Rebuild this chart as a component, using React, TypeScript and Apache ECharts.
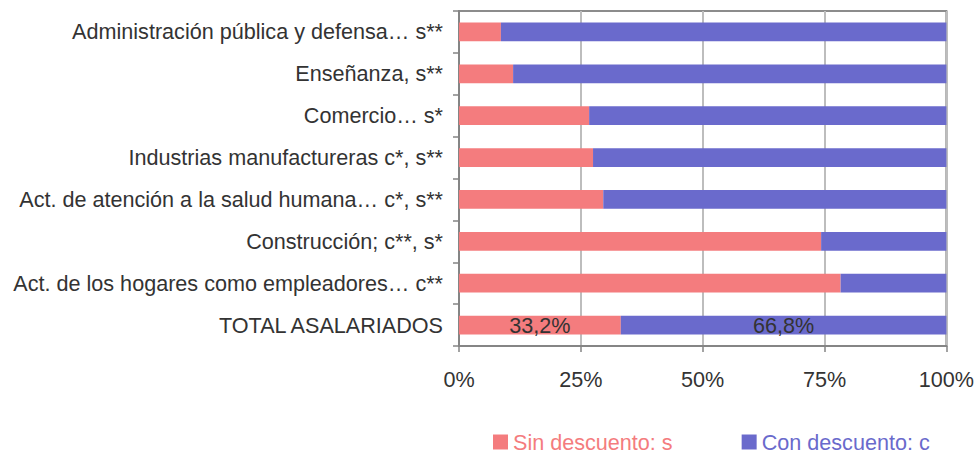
import React, { useEffect, useRef } from "react";
import * as echarts from "echarts";

const categories = [
  "Administración pública y defensa… s**",
  "Enseñanza, s**",
  "Comercio… s*",
  "Industrias manufactureras c*, s**",
  "Act. de atención a la salud humana… c*, s**",
  "Construcción; c**, s*",
  "Act. de los hogares como empleadores… c**",
  "TOTAL ASALARIADOS",
];
const sinDescuento = [8.6, 11.1, 26.7, 27.5, 29.6, 74.3, 78.3, 33.2];
const conDescuento = [91.4, 88.9, 73.3, 72.5, 70.4, 25.7, 21.7, 66.8];
const labelledIndex = 7;
const seriesNames = ["Sin descuento: s", "Con descuento: c"];
const colors = ["#F47C7E", "#6A6ACC"];

const FONT = "'Liberation Sans', Arial, sans-serif";
const FS = 21.6;

function toItems(values: number[]) {
  return values.map((v, i) => ({
    value: v,
    label: {
      show: i === labelledIndex,
      formatter: () => v.toFixed(1).replace(".", ",") + "%",
    },
  }));
}

export default function App() {
  const ref = useRef<HTMLDivElement>(null);
  useEffect(() => {
    document.body.style.margin = "0";
    const chart = echarts.init(ref.current!, undefined, { renderer: "svg" });
    chart.setOption({
      animation: false,
      textStyle: { fontFamily: FONT },
      grid: {
        left: 459,
        right: 29,
        top: 11,
        bottom: 108,
        show: true,
        borderColor: "#8C8C8C",
        borderWidth: 2,
      },
      legend: {
        left: 493,
        top: 431,
        padding: 0,
        itemWidth: 15,
        itemHeight: 15,
        itemGap: 69,
        icon: "rect",
        textStyle: { fontSize: FS, fontFamily: FONT },
        data: seriesNames.map((n, i) => ({ name: n, textStyle: { color: colors[i] } })),
      },
      xAxis: {
        type: "value",
        min: 0,
        max: 100,
        interval: 25,
        axisLine: { show: true, lineStyle: { color: "#858585", width: 2 } },
        axisTick: { show: true, length: 6, lineStyle: { color: "#858585", width: 1.5 } },
        splitLine: { show: true, lineStyle: { color: "#BDBDBD", width: 2 } },
        axisLabel: {
          formatter: "{value}%",
          fontSize: FS,
          color: "#333",
          margin: 22,
          fontFamily: FONT,
        },
      },
      yAxis: {
        type: "category",
        inverse: true,
        data: categories,
        axisLine: { show: true, lineStyle: { color: "#858585", width: 2 } },
        axisTick: { show: true, length: 6, lineStyle: { color: "#858585", width: 1.5 } },
        axisLabel: { fontSize: FS, color: "#333", margin: 16, fontFamily: FONT },
      },
      series: [
        {
          name: seriesNames[0],
          type: "bar",
          stack: "total",
          barWidth: "45%",
          itemStyle: { color: colors[0] },
          label: { position: "inside", color: "#333", fontSize: FS, fontFamily: FONT },
          data: toItems(sinDescuento),
        },
        {
          name: seriesNames[1],
          type: "bar",
          stack: "total",
          barWidth: "45%",
          itemStyle: { color: colors[1] },
          label: { position: "inside", color: "#333", fontSize: FS, fontFamily: FONT },
          data: toItems(conDescuento),
        },
      ],
    });
    return () => chart.dispose();
  }, []);
  return <div ref={ref} style={{ width: 977, height: 454 }} />;
}
